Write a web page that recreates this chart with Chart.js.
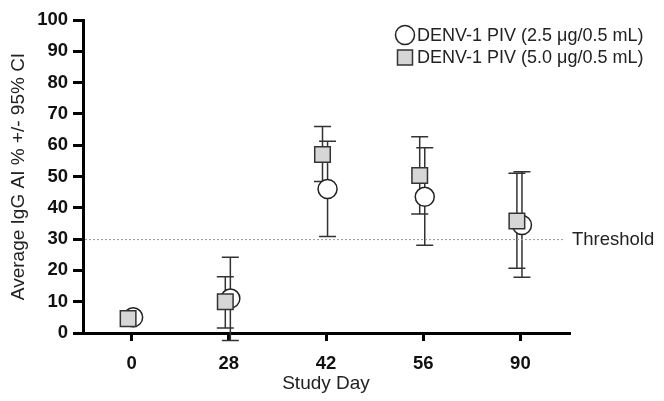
<!DOCTYPE html>
<html><head><meta charset="utf-8">
<script src="https://cdn.jsdelivr.net/npm/chart.js@4.4.1/dist/chart.umd.min.js"></script>
<style>html,body{margin:0;padding:0;background:#fff;}#wrap{width:664px;height:401px;position:relative;}</style>
</head><body><div id="wrap"><canvas id="c" width="664" height="401"></canvas></div>
<script>
// ---- data ----
const studyDays = ['0', '28', '42', '56', '90'];
const seriesNames = ['DENV-1 PIV (2.5 \u03bcg/0.5 mL)', 'DENV-1 PIV (5.0 \u03bcg/0.5 mL)'];
const mean25  = [5.0, 11.0, 46.0, 43.5, 34.5];
const lower25 = [null, -2.4, 30.8, 28.0, 17.8];
const upper25 = [null, 24.2, 61.3, 59.2, 51.5];
const mean50  = [4.6, 10.0, 57.0, 50.3, 35.8];
const lower50 = [null, 1.6, 48.4, 38.0, 20.7];
const upper50 = [null, 18.0, 66.0, 62.7, 51.0];
const thresholdValue = 30;
const thresholdLabel = 'Threshold';
const yTickValues = [0, 10, 20, 30, 40, 50, 60, 70, 80, 90, 100];

// ---- styles ----
const FONT = "'Liberation Sans', Arial, Helvetica, sans-serif";
const dodge25 = 0.016, dodge50 = -0.036;
const circleStyle = {bg: '#ffffff', border: '#222222', r: 9.5};
const squareStyle = {bg: '#d6d6d6', border: '#333333', r: 11};

function pts(means, dodge) { return means.map((v, i) => ({x: i + dodge, y: v})); }

const errorBars = {
  id: 'errorBars',
  beforeDatasetsDraw(chart) {
    const {ctx, scales: {x, y}} = chart;
    const sets = [
      {m: mean25, lo: lower25, hi: upper25, d: dodge25},
      {m: mean50, lo: lower50, hi: upper50, d: dodge50}
    ];
    ctx.save();
    ctx.strokeStyle = '#333';
    ctx.lineWidth = 1.5;
    const cap = 8.5;
    sets.forEach(s => {
      s.m.forEach((v, i) => {
        if (s.lo[i] == null) return;
        const px = x.getPixelForValue(i + s.d);
        const y1 = y.getPixelForValue(s.lo[i]);
        const y2 = y.getPixelForValue(s.hi[i]);
        ctx.beginPath();
        ctx.moveTo(px, y1); ctx.lineTo(px, y2);
        ctx.moveTo(px - cap, y1); ctx.lineTo(px + cap, y1);
        ctx.moveTo(px - cap, y2); ctx.lineTo(px + cap, y2);
        ctx.stroke();
      });
    });
    ctx.restore();
  }
};

const thresholdPlugin = {
  id: 'thresholdLine',
  beforeDatasetsDraw(chart) {
    const {ctx, chartArea, scales: {y}} = chart;
    const py = y.getPixelForValue(thresholdValue);
    ctx.save();
    ctx.strokeStyle = '#9a9a9a';
    ctx.lineWidth = 1;
    ctx.setLineDash([2, 2]);
    ctx.beginPath();
    ctx.moveTo(chartArea.left + 2, py + 0.5);
    ctx.lineTo(chartArea.right - 6, py + 0.5);
    ctx.stroke();
    ctx.setLineDash([]);
    ctx.fillStyle = '#222';
    ctx.font = '18.5px ' + FONT;
    ctx.textBaseline = 'middle';
    ctx.textAlign = 'left';
    ctx.fillText(thresholdLabel, chartArea.right + 3, py + 1);
    ctx.restore();
  }
};

const legendPlugin = {
  id: 'customLegend',
  afterDraw(chart) {
    const {ctx} = chart;
    ctx.save();
    ctx.font = '18px ' + FONT;
    ctx.textBaseline = 'middle';
    ctx.textAlign = 'left';
    ctx.lineWidth = 1.5;
    ctx.beginPath();
    ctx.arc(405, 35, circleStyle.r, 0, Math.PI * 2);
    ctx.fillStyle = circleStyle.bg; ctx.fill();
    ctx.strokeStyle = circleStyle.border; ctx.stroke();
    ctx.fillStyle = '#222';
    ctx.fillText(seriesNames[0], 417, 36);
    ctx.beginPath();
    ctx.rect(397.5, 50, 15, 15);
    ctx.fillStyle = squareStyle.bg; ctx.fill();
    ctx.strokeStyle = squareStyle.border; ctx.stroke();
    ctx.fillStyle = '#222';
    ctx.fillText(seriesNames[1], 417, 58);
    ctx.restore();
  }
};

new Chart(document.getElementById('c'), {
  type: 'scatter',
  data: {
    datasets: [
      {label: seriesNames[0], data: pts(mean25, dodge25), pointStyle: 'circle',
       pointRadius: circleStyle.r, pointHoverRadius: circleStyle.r,
       backgroundColor: circleStyle.bg, borderColor: circleStyle.border, borderWidth: 1.5,
       order: 1, clip: false},
      {label: seriesNames[1], data: pts(mean50, dodge50), pointStyle: 'rect',
       pointRadius: squareStyle.r, pointHoverRadius: squareStyle.r,
       backgroundColor: squareStyle.bg, borderColor: squareStyle.border, borderWidth: 1.5,
       order: 0, clip: false}
    ]
  },
  options: {
    responsive: false,
    animation: false,
    devicePixelRatio: 1,
    layout: {padding: {left: 0, right: 95, top: 20, bottom: 0}},
    plugins: {legend: {display: false}, tooltip: {enabled: false}},
    scales: {
      x: {
        type: 'linear', min: -0.5, max: 4.5,
        afterBuildTicks: s => { s.ticks = studyDays.map((d, i) => ({value: i})); },
        afterFit: s => { s.height = 68; },
        ticks: {callback: v => studyDays[v], font: {family: FONT, size: 18.5, weight: 'bold'}, color: '#111', padding: 12, maxRotation: 0},
        grid: {display: true, drawOnChartArea: false, drawTicks: true, tickLength: 8, lineWidth: 3, color: '#000'},
        border: {display: true, width: 3, color: '#000'},
        title: {display: true, text: 'Study Day', font: {family: FONT, size: 19}, color: '#222', padding: {top: 0, bottom: 6}}
      },
      y: {
        min: 0, max: 100,
        afterBuildTicks: s => { s.ticks = yTickValues.map(v => ({value: v})); },
        afterFit: s => { s.width = 83; },
        ticks: {font: {family: FONT, size: 18.5, weight: 'bold'}, color: '#111', padding: 5},
        grid: {display: true, drawOnChartArea: false, drawTicks: true, tickLength: 10, lineWidth: 3, color: '#000'},
        border: {display: true, width: 3, color: '#000'},
        title: {display: true, text: 'Average IgG AI % +/- 95% CI', font: {family: FONT, size: 19}, color: '#222', padding: {top: 7, bottom: 0}}
      }
    }
  },
  plugins: [errorBars, thresholdPlugin, legendPlugin]
});
</script></body></html>
